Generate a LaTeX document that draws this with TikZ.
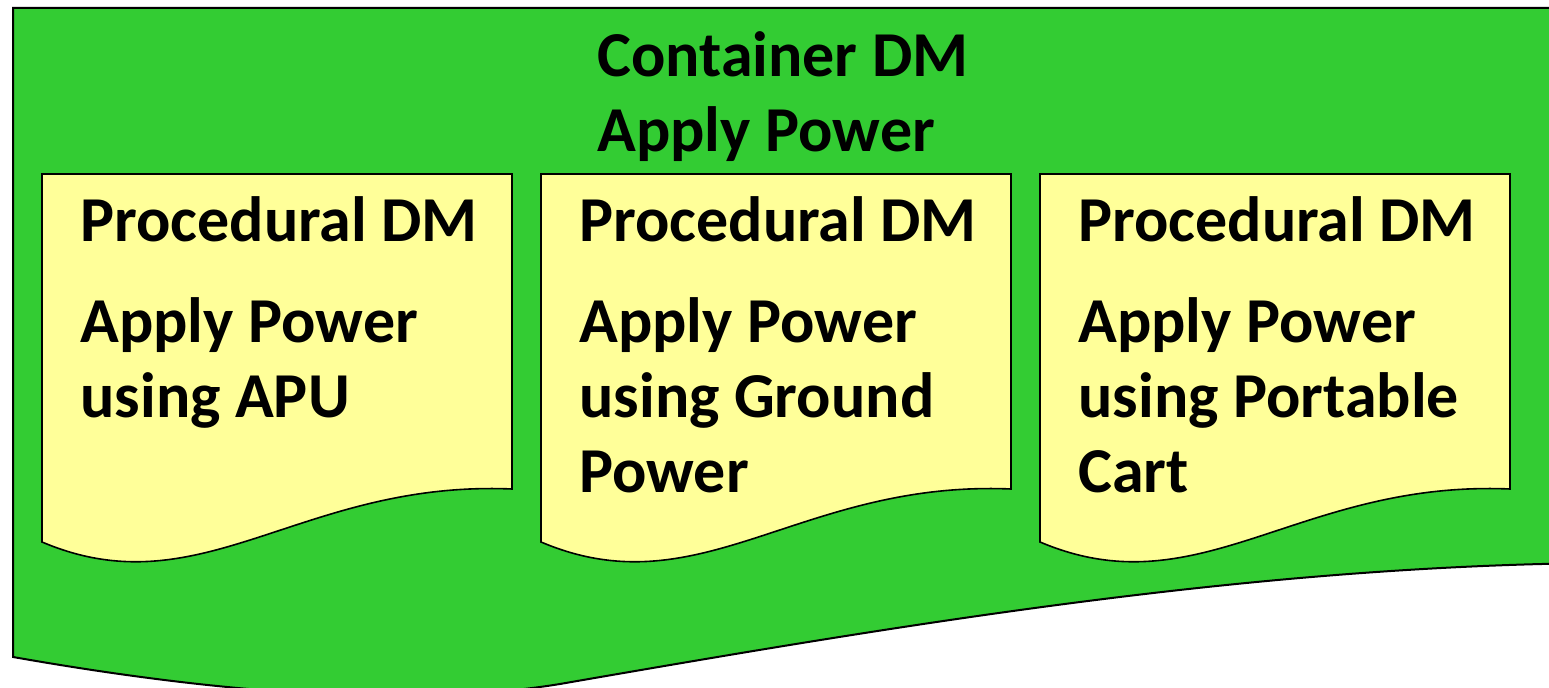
\documentclass[tikz,border=0pt]{standalone}
\usepackage{fontspec}
\setmainfont{Carlito}
\definecolor{dmgreen}{RGB}{51,204,51}
\definecolor{dmyellow}{RGB}{255,255,153}
\begin{document}
\begin{tikzpicture}[x=0.5pt,y=-0.5pt,
        dmtext/.style={anchor=base west, inner sep=0pt, align=left,
            font=\fontsize{32}{37.5}\selectfont\bfseries},
        docbox/.style={draw=black, line width=0.8pt, fill=dmyellow}]
    \clip (0,0) rectangle (1549,688);
    % container document
    \draw[fill=dmgreen, line width=1pt] (13,8) -- (1600,8) -- (1600,563)
        .. controls (1250,566) and (900,625) .. (560,684)
        .. controls (400,710) and (200,690) .. (13,657) -- cycle;
    % anchor base = baseline of the last line
    \node[dmtext] (container) at (597,152) {Container DM\\Apply Power};
    % procedural documents
    \foreach \x in {42,541,1040}
        \draw[docbox] (\x,174) -- (\x+470,174) -- (\x+470,489)
            .. controls (\x+258,480) and (\x+160,610) .. (\x,542) -- cycle;
    \node[dmtext] (apuhead) at (80,242) {Procedural DM};
    \node[dmtext] (apu) at (80,418) {Apply Power\\using APU};
    \node[dmtext] (groundhead) at (579,242) {Procedural DM};
    \node[dmtext] (ground) at (579,493) {Apply Power\\using Ground\\Power};
    \node[dmtext] (carthead) at (1078,242) {Procedural DM};
    \node[dmtext] (cart) at (1078,493) {Apply Power\\using Portable\\Cart};
\end{tikzpicture}
\end{document}
